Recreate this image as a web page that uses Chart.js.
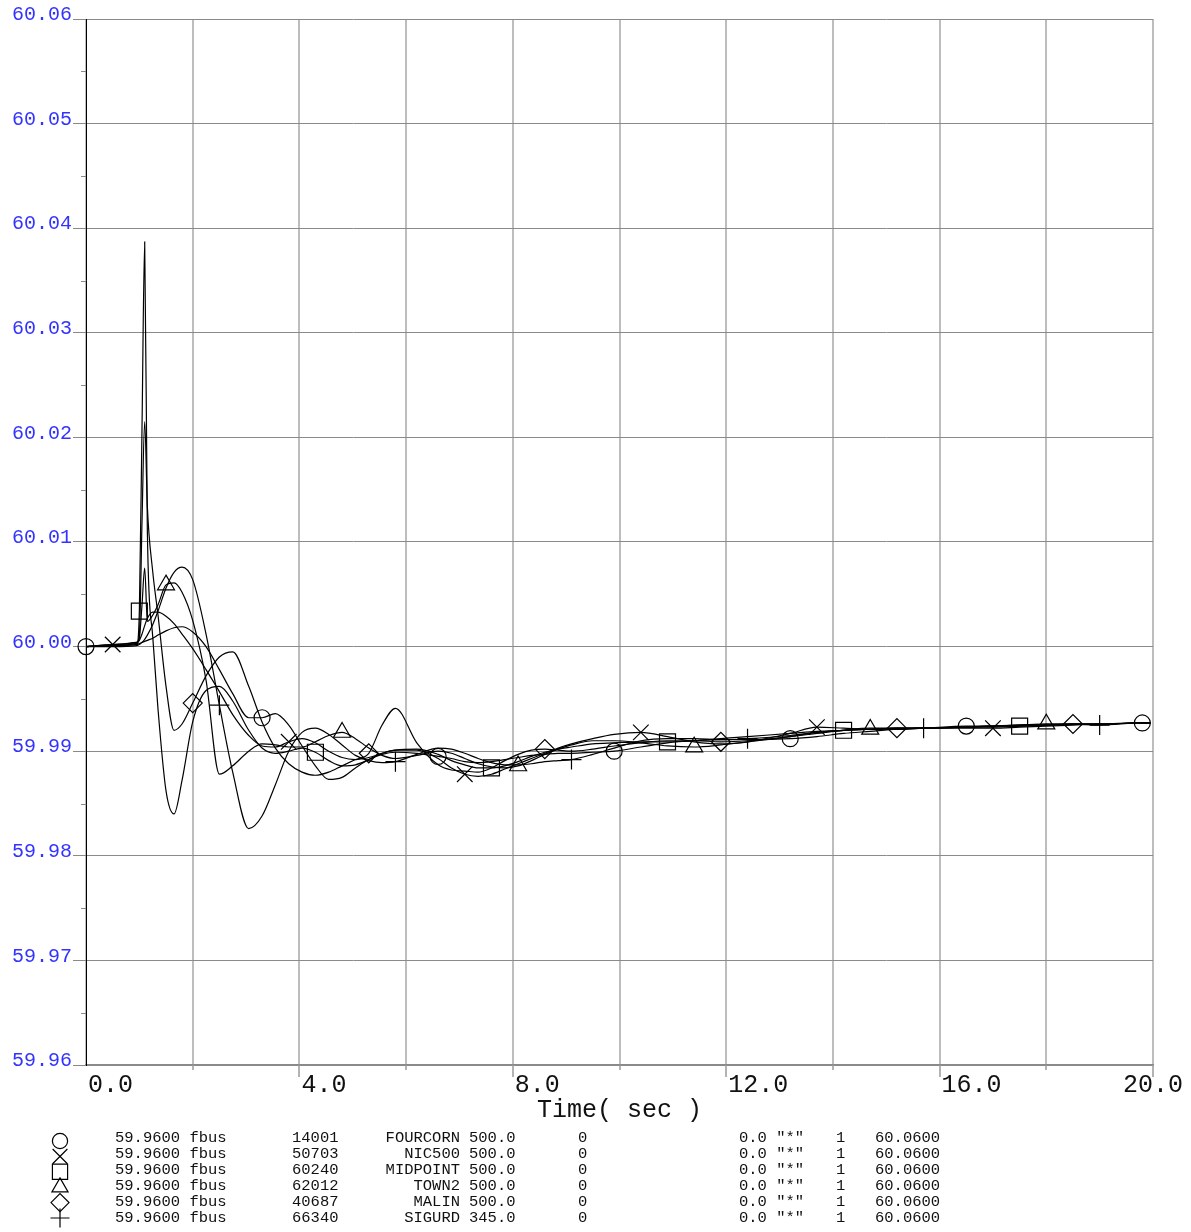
<!DOCTYPE html>
<html>
<head>
<meta charset="utf-8">
<title>fbus frequency</title>
<script src="https://cdn.jsdelivr.net/npm/chart.js@4.4.1/dist/chart.umd.min.js"></script>
<style>
  html, body { margin: 0; padding: 0; background: #fff; }
  canvas { display: block; }
</style>
</head>
<body>
<canvas id="chart" width="1191" height="1232"></canvas>
<script>
// sample times (sec)
const time = [0, 0.5, 0.95, 1.0, 1.05, 1.1, 1.15, 1.25, 1.35, 1.5,
  1.65, 1.8, 2.0, 2.25, 2.5, 2.75, 3.05, 3.3, 3.55, 3.8,
  4.05, 4.3, 4.55, 4.8, 5.05, 5.3, 5.55, 5.8, 6.2, 6.6,
  6.85, 7.1, 7.35, 7.6, 7.85, 8.1, 8.35, 8.6, 8.85, 9.1,
  9.5, 9.9, 10.4, 10.9, 11.4, 11.9, 12.4, 13.2, 13.7, 14.2,
  14.7, 15.2, 15.7, 16.5, 17.0, 17.5, 18.0, 18.5, 19.0, 19.8, 19.95];

// bus frequency (Hz)
const fourcorn = [60.0000, 60.0001, 60.0002, 60.0003, 60.0004, 60.0005, 60.0006, 60.0008, 60.0011, 60.0015,
  60.0018, 60.0019, 60.0014, 60.0000, 59.9978, 59.9955, 59.9932, 59.9932, 59.9936, 59.9925,
  59.9905, 59.9886, 59.9873, 59.9875, 59.9884, 59.9892, 59.9897, 59.9899, 59.9898, 59.9895,
  59.9893, 59.9890, 59.9889, 59.9890, 59.9892, 59.9894, 59.9896, 59.9897, 59.9898, 59.9898,
  59.9899, 59.9900, 59.9904, 59.9908, 59.9910, 59.9911, 59.9911, 59.9912, 59.9914, 59.9917,
  59.9919, 59.9921, 59.9922, 59.9924, 59.9924, 59.9924, 59.9925, 59.9926, 59.9926, 59.9927, 59.9927];

const nic500 = [60.0000, 60.0002, 60.0004, 60.0006, 60.0012, 60.0020, 60.0027, 60.0033, 60.0033, 60.0029,
  60.0022, 60.0012, 59.9998, 59.9978, 59.9957, 59.9935, 59.9915, 59.9905, 59.9904, 59.9909,
  59.9912, 59.9908, 59.9900, 59.9894, 59.9892, 59.9894, 59.9898, 59.9901, 59.9901, 59.9893,
  59.9884, 59.9878, 59.9876, 59.9878, 59.9883, 59.9888, 59.9893, 59.9898, 59.9903, 59.9907,
  59.9912, 59.9916, 59.9918, 59.9914, 59.9909, 59.9907, 59.9909, 59.9917, 59.9923, 59.9922,
  59.9921, 59.9921, 59.9922, 59.9922, 59.9922, 59.9923, 59.9924, 59.9925, 59.9926, 59.9927, 59.9927];

const midpoint = [60.0000, 60.0001, 60.0002, 60.0034, 60.0210, 60.0387, 60.0110, 60.0010, 59.9940, 59.9862,
  59.9840, 59.9872, 59.9928, 59.9958, 59.9962, 59.9948, 59.9920, 59.9903, 59.9898, 59.9900,
  59.9903, 59.9899, 59.9891, 59.9886, 59.9887, 59.9892, 59.9898, 59.9901, 59.9902, 59.9897,
  59.9891, 59.9887, 59.9884, 59.9884, 59.9886, 59.9890, 59.9895, 59.9899, 59.9902, 59.9904,
  59.9907, 59.9908, 59.9909, 59.9909, 59.9910, 59.9912, 59.9914, 59.9917, 59.9919, 59.9920,
  59.9921, 59.9922, 59.9922, 59.9923, 59.9923, 59.9924, 59.9925, 59.9926, 59.9926, 59.9927, 59.9927];

const town2 = [60.0000, 60.0001, 60.0003, 60.0008, 60.0040, 60.0075, 60.0024, 60.0030, 60.0040, 60.0059,
  60.0061, 60.0052, 60.0025, 59.9968, 59.9878, 59.9886, 59.9900, 59.9907, 59.9906, 59.9904,
  59.9904, 59.9909, 59.9915, 59.9918, 59.9912, 59.9903, 59.9896, 59.9893, 59.9896, 59.9900,
  59.9898, 59.9893, 59.9888, 59.9885, 59.9884, 59.9886, 59.9891, 59.9897, 59.9902, 59.9906,
  59.9910, 59.9910, 59.9908, 59.9905, 59.9904, 59.9906, 59.9909, 59.9914, 59.9918, 59.9920,
  59.9921, 59.9921, 59.9922, 59.9923, 59.9924, 59.9925, 59.9926, 59.9926, 59.9926, 59.9927, 59.9927];

const malin = [60.0000, 60.0002, 60.0004, 60.0010, 60.0120, 60.0215, 60.0134, 60.0072, 60.0030, 59.9962,
  59.9920, 59.9926, 59.9946, 59.9972, 59.9990, 59.9995, 59.9962, 59.9928, 59.9903, 59.9888,
  59.9880, 59.9877, 59.9880, 59.9886, 59.9892, 59.9898, 59.9925, 59.9941, 59.9908, 59.9887,
  59.9882, 59.9881, 59.9880, 59.9884, 59.9891, 59.9897, 59.9901, 59.9902, 59.9901, 59.9900,
  59.9902, 59.9905, 59.9908, 59.9910, 59.9910, 59.9909, 59.9910, 59.9914, 59.9917, 59.9920,
  59.9922, 59.9922, 59.9922, 59.9923, 59.9924, 59.9925, 59.9926, 59.9926, 59.9926, 59.9927, 59.9927];

const sigurd = [60.0000, 60.0000, 60.0001, 60.0002, 60.0004, 60.0007, 60.0011, 60.0021, 60.0034, 60.0056,
  60.0071, 60.0076, 60.0064, 60.0012, 59.9944, 59.9880, 59.9826, 59.9838, 59.9868, 59.9900,
  59.9918, 59.9922, 59.9916, 59.9906, 59.9896, 59.9891, 59.9889, 59.9890, 59.9897, 59.9903,
  59.9902, 59.9898, 59.9893, 59.9889, 59.9887, 59.9887, 59.9888, 59.9890, 59.9891, 59.9892,
  59.9897, 59.9903, 59.9910, 59.9912, 59.9912, 59.9911, 59.9912, 59.9915, 59.9918, 59.9920,
  59.9921, 59.9922, 59.9922, 59.9923, 59.9924, 59.9925, 59.9925, 59.9926, 59.9925, 59.9927, 59.9927];

// times where each curve carries its symbol
const fourcornMarks = [0, 3.3, 6.6, 9.9, 13.2, 16.5, 19.8];
const nic500Marks = [0.5, 3.8, 7.1, 10.4, 13.7, 17.0];
const midpointMarks = [1.0, 4.3, 7.6, 10.9, 14.2, 17.5];
const town2Marks = [1.5, 4.8, 8.1, 11.4, 14.7, 18.0];
const malinMarks = [2.0, 5.3, 8.6, 11.9, 15.2, 18.5];
const sigurdMarks = [2.5, 5.8, 9.1, 12.4, 15.7, 19.0];

// legend table
const busNumbers = ['14001', '50703', '60240', '62012', '40687', '66340'];
const busNames = ['FOURCORN', 'NIC500', 'MIDPOINT', 'TOWN2', 'MALIN', 'SIGURD'];
const busKv = ['500.0', '500.0', '500.0', '500.0', '500.0', '345.0'];
const yMin = 59.96, yMax = 60.06;
const xLabels = [0, 4, 8, 12, 16, 20];

const symbols = [
  { style: 'circle', r: 8 },
  { style: 'crossRot', r: 11 },
  { style: 'rect', r: 11.3 },
  { style: 'triangle', r: 9.8 },
  { style: 'rectRot', r: 9.5 },
  { style: 'cross', r: 10 }
];

const curves = [fourcorn, nic500, midpoint, town2, malin, sigurd];
const marks = [fourcornMarks, nic500Marks, midpointMarks, town2Marks, malinMarks, sigurdMarks];

const MONO = "'Liberation Mono', 'DejaVu Sans Mono', monospace";
const isMajor = v => Math.abs(Math.round(v * 100) - v * 100) < 1e-6;

const datasets = curves.map((vals, k) => ({
  label: busNames[k],
  data: time.map((t, i) => ({ x: t, y: vals[i] })),
  borderColor: '#000',
  borderWidth: 1.2,
  cubicInterpolationMode: 'monotone',
  pointStyle: symbols[k].style,
  pointRadius: ctx => marks[k].includes(time[ctx.dataIndex]) ? symbols[k].r : 0,
  pointBorderColor: '#000',
  pointBackgroundColor: 'rgba(0,0,0,0)',
  pointBorderWidth: 1.2,
  clip: false
}));

const extras = {
  id: 'extras',
  afterDraw(chart) {
    const { ctx, chartArea: ca } = chart;
    const x = chart.scales.x, y = chart.scales.y;
    ctx.save();

    // short minor ticks on the frequency axis
    ctx.strokeStyle = '#8a8a8a';
    ctx.lineWidth = 1;
    y.ticks.forEach(t => {
      if (isMajor(t.value)) return;
      const py = Math.round(y.getPixelForValue(t.value)) + 0.5;
      ctx.beginPath();
      ctx.moveTo(ca.left - 5, py);
      ctx.lineTo(ca.left, py);
      ctx.stroke();
    });

    // ticks below the time axis
    ctx.strokeStyle = '#9a9a9a';
    ctx.lineWidth = 1.5;
    for (let v = 2; v <= 20; v += 2) {
      const px = Math.round(x.getPixelForValue(v));
      ctx.beginPath();
      ctx.moveTo(px, ca.bottom);
      ctx.lineTo(px, ca.bottom + (v % 4 === 0 ? 12 : 5));
      ctx.stroke();
    }

    // time labels
    ctx.font = '25px ' + MONO;
    ctx.fillStyle = '#111';
    ctx.textBaseline = 'alphabetic';
    xLabels.forEach((v, i) => {
      const px = x.getPixelForValue(v);
      const last = i === xLabels.length - 1;
      ctx.textAlign = last ? 'center' : 'left';
      ctx.fillText(v.toFixed(1), last ? px : px + 2, ca.bottom + 27);
    });

    // legend table
    const top = 1142, step = 16;
    ctx.font = '15.5px ' + MONO;
    busNames.forEach((name, i) => {
      const by = top + i * step;
      ctx.fillStyle = '#111';
      ctx.textAlign = 'left';
      ctx.fillText(yMin.toFixed(4) + ' fbus', 115, by);
      ctx.fillText(busNumbers[i], 292, by);
      ctx.textAlign = 'right';
      ctx.fillText(name, 460, by);
      ctx.textAlign = 'left';
      ctx.fillText(busKv[i], 469, by);
      ctx.fillText('0', 578, by);
      ctx.fillText('0.0 "*"', 739, by);
      ctx.fillText('1', 836, by);
      ctx.fillText(yMax.toFixed(4), 875, by);

      ctx.fillStyle = 'rgba(0,0,0,0)';
      ctx.strokeStyle = '#000';
      ctx.lineWidth = 1.2;
      Chart.helpers.drawPoint(ctx, {
        pointStyle: symbols[i].style,
        radius: symbols[i].r * 0.95,
        borderWidth: 1.2,
        rotation: 0
      }, 60, 1141 + i * 15.4);
    });

    ctx.restore();
  }
};

new Chart(document.getElementById('chart'), {
  type: 'line',
  data: { datasets },
  plugins: [extras],
  options: {
    responsive: false,
    animation: false,
    events: [],
    layout: { padding: { top: 19, right: 38, bottom: 107, left: 0 } },
    plugins: { legend: { display: false }, tooltip: { enabled: false } },
    scales: {
      x: {
        type: 'linear',
        min: 0,
        max: 20,
        afterFit: s => { s.height = 60; },
        ticks: { stepSize: 2, display: false },
        grid: { color: '#bdbdbd', lineWidth: 2, drawTicks: false },
        border: { color: '#8a8a8a', width: 2 },
        title: {
          display: true,
          text: 'Time( sec )',
          color: '#111',
          font: { family: MONO, size: 25 },
          padding: 0
        }
      },
      y: {
        min: yMin,
        max: yMax,
        afterFit: s => { s.width = 86; },
        ticks: {
          stepSize: 0.005,
          autoSkip: false,
          callback: v => isMajor(v) ? v.toFixed(2) : '',
          color: '#3333ff',
          font: { family: MONO, size: 20 },
          padding: 1,
          labelOffset: -4
        },
        grid: {
          color: ctx => ctx.tick && isMajor(ctx.tick.value) ? '#8a8a8a' : 'rgba(0,0,0,0)',
          tickColor: ctx => ctx.tick && isMajor(ctx.tick.value) ? '#8a8a8a' : 'rgba(0,0,0,0)',
          tickLength: 13,
          lineWidth: 1
        },
        border: { color: '#000', width: 1 }
      }
    }
  }
});
</script>
</body>
</html>
